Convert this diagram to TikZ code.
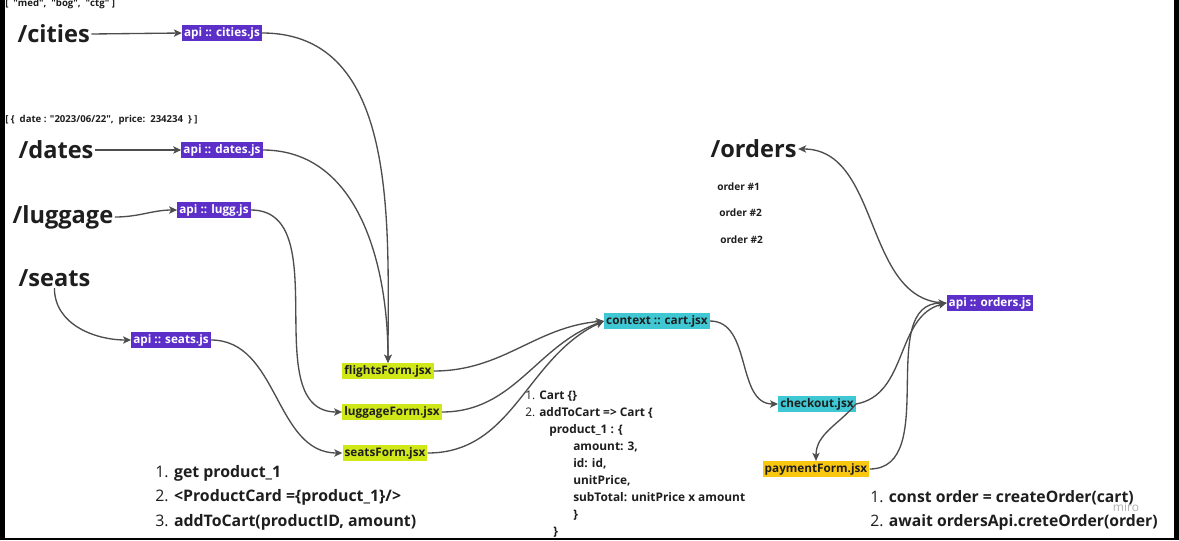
\documentclass[tikz,border=0pt]{standalone}
\usepackage{fontspec}
\setmainfont{Open Sans}
\usetikzlibrary{arrows.meta}
\definecolor{apiv}{HTML}{5C2FC9}
\definecolor{formc}{HTML}{D0E817}
\definecolor{ctxc}{HTML}{3FC8D4}
\definecolor{payc}{HTML}{FAC710}
\definecolor{trait}{HTML}{4D4D4D}
\definecolor{encre}{HTML}{1E1E1E}
\newcommand{\qt}{\textquotedbl}

\begin{document}
\begin{tikzpicture}[
  x=0.75pt, y=0.75pt,
  route/.style={font=\fontsize{17.7}{20}\selectfont\bfseries, text=encre, inner sep=1pt},
  etiq/.style={font=\fontsize{8.8}{10}\selectfont\bfseries, text=encre, inner sep=1.5pt},
  api/.style={etiq, fill=apiv, text=white},
  form/.style={etiq, fill=formc},
  ctx/.style={etiq, fill=ctxc},
  pay/.style={etiq, fill=payc},
  note/.style={font=\fontsize{7.2}{8}\selectfont\bfseries, text=encre, inner sep=0pt},
  liste/.style={align=left, inner sep=0pt, text=encre},
  fl/.style={-{Stealth[length=6pt, width=5.5pt, inset=1.5pt]}, trait, line width=1pt},
]
% le cadre de la capture
\fill[black] (0,0) rectangle (1179,-540);
\fill[white] (5,0) rectangle (1174,-538);
\useasboundingbox (0,0) rectangle (1179,-540);
% les routes
\node[note, anchor=base west] (nmed) at (5,-6) {[ \ \qt med\qt, \ \qt bog\qt, \ \qt ctg\qt \ ]};
\node[route, anchor=west] (cities) at (16,-34) {/cities};
\node[note, anchor=base west] (ndate) at (5,-122) {[ \{ \ date : \qt 2023/06/22\qt, \ price:\ \ 234234\ \ \} ]};
\node[route, anchor=west] (dates) at (17,-150) {/dates};
\node[route, anchor=west] (lugg) at (11,-217) {/luggage};
\node[route, anchor=west] (seats) at (17,-278) {/seats};
\node[route, anchor=west] (orders) at (709,-149) {/orders};
\node[note, anchor=west, font=\fontsize{7.6}{8}\selectfont\bfseries] (o1) at (717,-187) {order \#1};
\node[note, anchor=west, font=\fontsize{7.6}{8}\selectfont\bfseries] (o2) at (719,-213) {order \#2};
\node[note, anchor=west, font=\fontsize{7.6}{8}\selectfont\bfseries] (o3) at (720,-240) {order \#2};
% les appels api
\node[api] (ac) at (222,-33) {api :: cities.js};
\node[api] (ad) at (222,-150) {api :: dates.js};
\node[api] (al) at (214,-210) {api :: lugg.js};
\node[api] (as) at (171,-340) {api :: seats.js};
\node[api] (ao) at (990,-303) {api :: orders.js};
% les formulaires
\node[form] (ff) at (388,-371) {flightsForm.jsx};
\node[form] (lf) at (392,-412) {luggageForm.jsx};
\node[form] (sf) at (385,-453) {seatsForm.jsx};
\node[ctx] (cart) at (657,-321) {context :: cart.jsx};
\node[ctx] (co) at (817,-404) {checkout.jsx};
\node[pay] (pf) at (816,-469) {paymentForm.jsx};
% les notes
\node[liste, anchor=north west, font=\fontsize{8.9}{12.75}\selectfont] (ncart) at (525,-391)
  {1. \textbf{Cart \{\}}\\
   2. \textbf{addToCart => Cart \{}\\
   \hspace*{18pt}\textbf{product\_1 : \{}\\
   \hspace*{36pt}\textbf{amount: 3,}\\
   \hspace*{36pt}\textbf{id: id,}\\
   \hspace*{36pt}\textbf{unitPrice,}\\
   \hspace*{36pt}\textbf{subTotal: unitPrice x amount}\\
   \hspace*{36pt}\textbf{\}}\\
   \hspace*{21pt}\textbf{\}}};
\node[liste, anchor=north west, font=\fontsize{11.9}{18.4}\selectfont] (nprod) at (155,-465)
  {1. \textbf{get product\_1}\\
   2. \textbf{<ProductCard =\{product\_1\}/>}\\
   3. \textbf{addToCart(productID, amount)}};
\node[liste, anchor=north west, font=\fontsize{11.8}{18.4}\selectfont] (nord) at (870,-490)
  {1. \textbf{const order = createOrder(cart)}\\
   2. \textbf{await ordersApi.creteOrder(order)}};
\node[text=black!30, font=\fontsize{9}{10}\selectfont, inner sep=0pt] (miro) at (1126,-507) {miro};
% flux
\draw[fl] (cities.east) -- (ac.west);
\draw[fl] (dates.east) -- (ad.west);
\draw[fl] (lugg.east) to[out=0, in=180] (al.west);
\draw[fl] (seats.south) to[out=-90, in=180] (as.west);
\draw[fl] (ac.east) to[out=0, in=90] (ff.north);
\draw[fl] (ad.east) to[out=0, in=90] (ff.north);
\draw[fl] (al.east) to[out=0, in=180] (lf.west);
\draw[fl] (as.east) to[out=0, in=180] (sf.west);
\draw[fl] (ff.east) to[out=0, in=185] (cart.west);
\draw[fl] (lf.east) to[out=0, in=200] (cart.west);
\draw[fl] (sf.east) to[out=0, in=205] (cart.west);
\draw[fl] (cart.east) to[out=0, in=180] (co.west);
\draw[fl] (co.east) to[out=10, in=195] (ao.west);
\draw[fl] (co.east) to[out=-130, in=90] (pf.north);
\draw[fl] (pf.east) to[out=0, in=180] (ao.west);
\draw[fl] (ao.west) to[out=180, in=0] (orders.east);
\end{tikzpicture}
\end{document}
